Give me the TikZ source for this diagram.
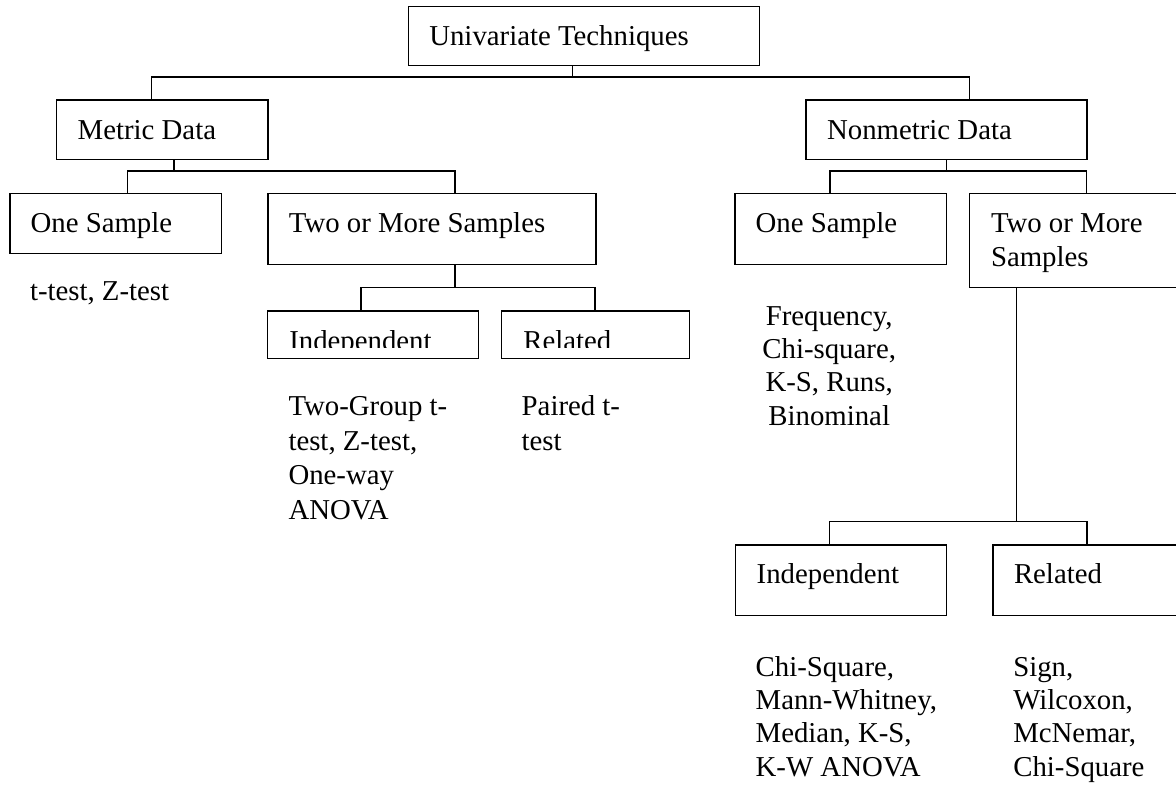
\documentclass[tikz,border=0pt]{standalone}
\usepackage{fontspec}
\setmainfont{Liberation Serif}
\usetikzlibrary{fit}
\newcommand\mlines[3]{{\fontsize{12}{#1}\selectfont\begin{tabular}[t]{@{}#2@{}}#3\end{tabular}}}
\begin{document}
\begin{tikzpicture}[x=0.41667pt,y=-0.41667pt,
  box/.style={draw, line width=0.6pt, inner sep=0pt, outer sep=0pt},
  lbl/.style={inner sep=0pt, outer sep=0pt, anchor=base west, font=\fontsize{12}{14.2}\selectfont},
  wire/.style={line width=0.55pt}]
\useasboundingbox (0,0) rectangle (1176,785);
\clip (0,0) rectangle (1176,785);

% boxes
\node[box, fit={(408.3,6.7) (759.6,65.7)}] (U) {};
\node[box, fit={(56.6,100) (267.9,159.3)}] (M) {};
\node[box, fit={(805.9,100) (1086.8,159.3)}] (N) {};
\node[box, fit={(10,193.3) (221.5,253.3)}] (OneM) {};
\node[box, fit={(267.9,193.3) (595.8,264.3)}] (TwoM) {};
\node[box, fit={(735.2,193.3) (946.6,264.3)}] (OneN) {};
\node[box, fit={(969.7,193.3) (1195,287.3)}] (TwoN) {};
\node[box, fit={(267.3,311) (478.3,358.3)}] (IndM) {};
\node[box, fit={(501.7,311) (689.3,358.3)}] (RelM) {};
\node[box, fit={(735.7,545) (946.7,615.7)}] (IndN) {};
\node[box, fit={(993,545) (1195,615.7)}] (RelN) {};

% box labels
\node[lbl] (Ut) at (429.3,45.5) {Univariate Techniques};
\node[lbl] (Mt) at (77.7,139) {Metric Data};
\node[lbl] (Nt) at (827.1,139) {Nonmetric Data};
\node[lbl] (OneMt) at (30.6,232) {One Sample};
\node[lbl] (TwoMt) at (288.9,232) {Two or More Samples};
\node[lbl] (OneNt) at (755.6,232) {One Sample};
\node[lbl] (TwoNt) at (991,232) {\mlines{14.3pt}{l}{Two or More\\Samples}};
\begin{scope}
  \clip (260,305) rectangle (700,347.3);
  \node[lbl] (IndMt) at (289.3,350) {Independent};
  \node[lbl] (RelMt) at (523.3,350) {Related};
\end{scope}
\node[lbl] (IndNt) at (756.7,583) {Independent};
\node[lbl] (RelNt) at (1014,583) {Related};

% test lists
\node[lbl] (L1) at (30,300.7) {t-test, Z-test};
\node[lbl] (L2) at (288.5,415.5) {\mlines{14.4pt}{l}{Two-Group t-\\test, Z-test,\\One-way\\ANOVA}};
\node[lbl] (L3) at (521.7,415.5) {\mlines{14.4pt}{l}{Paired t-\\test}};
\node[lbl, anchor=base] (L4) at (829.2,325) {\mlines{13.9pt}{c}{Frequency,\\Chi-square,\\K-S, Runs,\\Binominal}};
\node[lbl] (L5) at (755.7,676) {\mlines{13.95pt}{l}{Chi-Square,\\Mann-Whitney,\\Median, K-S,\\K-W ANOVA}};
\node[lbl] (L6) at (1013.3,676) {\mlines{13.95pt}{l}{Sign,\\Wilcoxon,\\McNemar,\\Chi-Square}};

% connectors
\coordinate (j0) at (572.8,77);  \coordinate (j0l) at (151.2,77);  \coordinate (j0r) at (969.7,77);
\coordinate (j1) at (174.1,171); \coordinate (j1l) at (127.4,171); \coordinate (j1r) at (455,171);
\coordinate (j2) at (946.6,171); \coordinate (j2l) at (829.9,171); \coordinate (j2r) at (1086.8,171);
\coordinate (j3) at (455,287.3); \coordinate (j3l) at (361,287.3); \coordinate (j3r) at (595,287.3);
\coordinate (j4) at (1016.7,521.7); \coordinate (j4l) at (829.3,521.7); \coordinate (j4r) at (1087,521.7);

\draw[wire] (U.south -| j0) -- (j0);
\draw[wire] (M.north -| j0l) -- (j0l) -- (j0r) -- (N.north -| j0r);
\draw[wire] (M.south -| j1) -- (j1);
\draw[wire] (OneM.north -| j1l) -- (j1l) -- (j1r) -- (TwoM.north -| j1r);
\draw[wire] (N.south -| j2) -- (j2);
\draw[wire] (OneN.north -| j2l) -- (j2l) -- (j2r) -- (TwoN.north -| j2r);
\draw[wire] (TwoM.south -| j3) -- (j3);
\draw[wire] (IndM.north -| j3l) -- (j3l) -- (j3r) -- (RelM.north -| j3r);
\draw[wire] (TwoN.south -| j4) -- (j4);
\draw[wire] (IndN.north -| j4l) -- (j4l) -- (j4r) -- (RelN.north -| j4r);
\end{tikzpicture}
\end{document}
